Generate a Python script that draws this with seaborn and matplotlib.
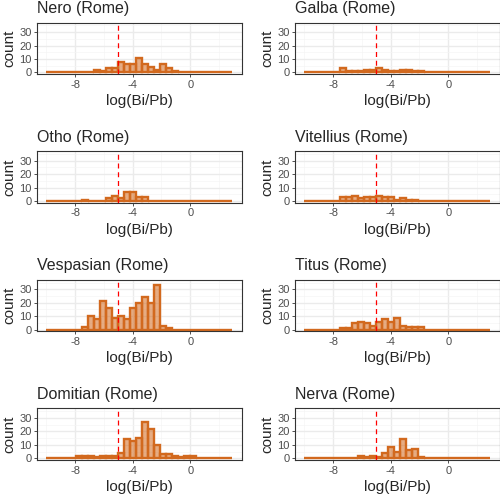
import numpy as np
import pandas as pd
import matplotlib
matplotlib.use("Agg")
import matplotlib.pyplot as plt
import seaborn as sns

# 31 equal bins of log(Bi/Pb), same binning in every panel
bin_lo, bin_hi, n_bins = -9.99, 2.91, 31
threshold = -5

nero = [0, 0, 0, 0, 0, 0, 0, 0, 2, 1, 3, 3, 8, 6, 6, 11, 6, 4, 2, 6, 3, 1, 0, 0, 0, 0, 0, 0, 0, 0, 0]
galba = [0, 0, 0, 0, 0, 0, 3, 1, 1, 1, 2, 2, 3, 2, 1, 1, 2, 2, 1, 1, 0, 0, 0, 0, 0, 0, 0, 0, 0, 0, 0]
otho = [0, 0, 0, 0, 0, 0, 1, 0, 0, 0, 2, 4, 2, 7, 7, 3, 3, 0, 0, 0, 0, 0, 0, 0, 0, 0, 0, 0, 0, 0, 0]
vitellius = [0, 0, 0, 0, 0, 0, 3, 3, 4, 2, 3, 3, 4, 3, 3, 1, 2, 1, 1, 0, 0, 0, 0, 0, 0, 0, 0, 0, 0, 0, 0]
vespasian = [0, 0, 0, 0, 0, 0, 2, 10, 8, 21, 16, 9, 10, 8, 16, 20, 24, 20, 33, 3, 1, 0, 0, 0, 0, 0, 0, 0, 0, 0, 0]
titus = [0, 0, 0, 0, 0, 0, 1, 1, 5, 6, 5, 3, 6, 8, 6, 9, 3, 2, 2, 2, 0, 0, 0, 0, 0, 0, 0, 0, 0, 0, 0]
domitian = [0, 0, 0, 0, 0, 2, 2, 2, 1, 2, 2, 2, 4, 14, 13, 15, 27, 22, 10, 3, 3, 2, 1, 2, 2, 0, 0, 0, 0, 0, 0]
nerva = [0, 0, 0, 0, 0, 0, 0, 0, 0, 2, 1, 2, 1, 4, 8, 5, 14, 6, 7, 1, 0, 0, 0, 0, 0, 0, 0, 0, 0, 0, 0]

panels = [
    ("Nero (Rome)", nero),
    ("Galba (Rome)", galba),
    ("Otho (Rome)", otho),
    ("Vitellius (Rome)", vitellius),
    ("Vespasian (Rome)", vespasian),
    ("Titus (Rome)", titus),
    ("Domitian (Rome)", domitian),
    ("Nerva (Rome)", nerva),
]

edges = np.linspace(bin_lo, bin_hi, n_bins + 1)
centers = (edges[:-1] + edges[1:]) / 2

sns.set_theme(style="white")
plt.rcParams["font.family"] = ["Liberation Sans", "DejaVu Sans"]
plt.rcParams["axes.unicode_minus"] = False

orange = "#D2691E"
W, H = 500, 499
fig = plt.figure(figsize=(W / 100, H / 100), dpi=100)

for i, (title, counts) in enumerate(panels):
    row, col = divmod(i, 2)
    left = 37 if col == 0 else 295
    top = 22.7 + 128.6 * row
    ax = fig.add_axes([left / W, 1 - (top + 51.5) / H, 205 / W, 51.5 / H])

    df = pd.DataFrame({"x": centers, "n": counts})
    sns.histplot(data=df, x="x", weights="n", bins=list(edges), ax=ax,
                 color=orange, edgecolor=orange, alpha=0.55, linewidth=1.7, zorder=2)
    ax.axvline(threshold, color="red", linestyle=(0, (4, 3)), linewidth=0.9, zorder=3)

    ax.set_xlim(-10.65, 3.6)
    ax.set_ylim(-1.3, 37)
    ax.set_xticks([-8, -4, 0])
    ax.set_xticks([-10, -6, -2, 2], minor=True)
    ax.set_yticks([0, 10, 20, 30])
    ax.set_yticks([5, 15, 25, 35], minor=True)
    ax.grid(which="major", color="#EBEBEB", linewidth=1.0, zorder=0)
    ax.grid(which="minor", color="#F5F5F5", linewidth=0.5, zorder=0)
    ax.set_axisbelow(True)
    ax.tick_params(which="major", length=2.5, width=0.6, color="#333333",
                   labelsize=8, labelcolor="#4D4D4D", pad=1.5)
    ax.tick_params(which="minor", length=0)
    ax.tick_params(axis="both", which="both", bottom=True, left=True)
    for sp in ax.spines.values():
        sp.set_color("#333333")
        sp.set_linewidth(0.8)

    ax.set_title(title, loc="left", fontsize=11.5, pad=7)
    ax.set_xlabel("log(Bi/Pb)", fontsize=11, labelpad=3)
    ax.set_ylabel("count", fontsize=11, labelpad=2)

fig.savefig("out.png", dpi=100)
